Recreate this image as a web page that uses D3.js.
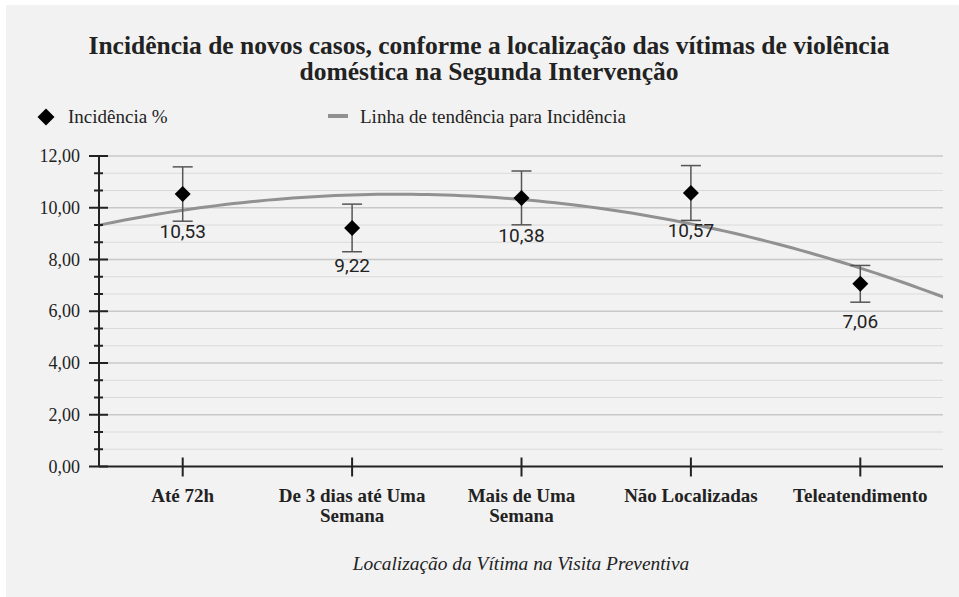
<!DOCTYPE html>
<html>
<head>
<meta charset="utf-8">
<script src="https://cdn.jsdelivr.net/npm/d3@7"></script>
<style>
  body { margin: 0; background: #fff; }
  text { font-family: "Liberation Serif", "Times New Roman", serif; fill: #222; }
</style>
</head>
<body>
<div id="chart"></div>
<script>
// data
var categories = ["Até 72h", "De 3 dias até Uma|Semana", "Mais de Uma|Semana", "Não Localizadas", "Teleatendimento"];
var incidence = [10.53, 9.22, 10.38, 10.57, 7.06];
var errors = [1.05, 0.92, 1.04, 1.06, 0.71];
var yTicks = [0, 2, 4, 6, 8, 10, 12];

var W = 959, H = 597;
var plotL = 99, plotR = 943, plotT = 156, plotB = 466.5;

var svg = d3.select("#chart").append("svg")
    .attr("width", W)
    .attr("height", H);

// panel
svg.append("rect")
    .attr("x", 6).attr("y", 5)
    .attr("width", W - 6).attr("height", H - 5)
    .attr("fill", "#f2f2f2");

var x = d3.scaleBand().domain(categories).range([98, 945]);
var y = d3.scaleLinear().domain([0, 12]).range([plotB, plotT]);
var cx = function (c) { return x(c) + x.bandwidth() / 2; };

// minor values at thirds of each major step
var minor = d3.range(0, 18 + 1).map(function (i) { return i * 2 / 3; })
    .filter(function (v) { return Math.abs(v / 2 - Math.round(v / 2)) > 0.01; });

// grid
svg.append("g").selectAll("line")
    .data(minor).enter().append("line")
    .attr("x1", plotL).attr("x2", plotR)
    .attr("y1", d => y(d)).attr("y2", d => y(d))
    .style("stroke", "#dadada").style("stroke-width", 1);
svg.append("g").selectAll("line")
    .data(yTicks.filter(d => d > 0)).enter().append("line")
    .attr("x1", plotL).attr("x2", plotR)
    .attr("y1", d => y(d)).attr("y2", d => y(d))
    .style("stroke", "#c8c8c8").style("stroke-width", 1.5);

// polynomial (order 2) trend line, least squares on category index
var n = incidence.length;
var ts = d3.range(n).map(i => i - (n - 1) / 2);
var mean = d3.mean(incidence);
var b = d3.sum(ts, (t, i) => t * incidence[i]) / d3.sum(ts, t => t * t);
var t2m = d3.mean(ts, t => t * t);
var c = d3.sum(ts, (t, i) => (t * t - t2m) * incidence[i]) / d3.sum(ts, t => (t * t - t2m) * (t * t - t2m));
var trend = function (t) { return mean + b * t + c * (t * t - t2m); };

var xi = d3.scaleLinear().domain([ts[0], ts[n - 1]]).range([cx(categories[0]), cx(categories[n - 1])]);
var tSamples = d3.range(0, 101).map(i => -2.5 + i * 5 / 100);

svg.append("defs").append("clipPath").attr("id", "plot")
    .append("rect").attr("x", plotL).attr("y", 0).attr("width", plotR - plotL).attr("height", H);

svg.append("path")
    .datum(tSamples)
    .attr("clip-path", "url(#plot)")
    .attr("d", d3.line().x(t => xi(t)).y(t => y(trend(t))))
    .style("fill", "none")
    .style("stroke", "#919191")
    .style("stroke-width", 3);

// points
var pts = svg.append("g").selectAll("g")
    .data(categories).enter().append("g")
    .attr("transform", d => "translate(" + cx(d) + ",0)");

pts.append("line")
    .attr("y1", (d, i) => y(incidence[i] + errors[i]))
    .attr("y2", (d, i) => y(incidence[i] - errors[i]))
    .style("stroke", "#555").style("stroke-width", 1.5);
pts.append("line")
    .attr("x1", -10).attr("x2", 10)
    .attr("y1", (d, i) => y(incidence[i] + errors[i]))
    .attr("y2", (d, i) => y(incidence[i] + errors[i]))
    .style("stroke", "#555").style("stroke-width", 1.5);
pts.append("line")
    .attr("x1", -10).attr("x2", 10)
    .attr("y1", (d, i) => y(incidence[i] - errors[i]))
    .attr("y2", (d, i) => y(incidence[i] - errors[i]))
    .style("stroke", "#555").style("stroke-width", 1.5);

pts.append("path")
    .attr("transform", (d, i) => "translate(0," + y(incidence[i]) + ")")
    .attr("d", "M0,-8L8,0L0,8L-8,0Z")
    .style("fill", "#000");

pts.append("text")
    .attr("y", (d, i) => y(incidence[i]) + 44)
    .attr("text-anchor", "middle")
    .style("font-family", "Roboto, sans-serif")
    .style("font-size", "19px")
    .text((d, i) => d3.format(".2f")(incidence[i]).replace(".", ","));

// y axis
var ax = svg.append("g").style("stroke", "#222");
ax.append("line").attr("x1", plotL).attr("x2", plotL).attr("y1", plotT).attr("y2", plotB).style("stroke-width", 2);
ax.selectAll(".maj").data(yTicks).enter().append("line")
    .attr("x1", plotL - 10).attr("x2", plotL + 9)
    .attr("y1", d => y(d)).attr("y2", d => y(d)).style("stroke-width", 2);
ax.selectAll(".min").data(minor).enter().append("line")
    .attr("x1", plotL - 5).attr("x2", plotL + 4)
    .attr("y1", d => y(d)).attr("y2", d => y(d)).style("stroke-width", 2);
svg.append("g").selectAll("text")
    .data(yTicks).enter().append("text")
    .attr("x", 80).attr("y", d => y(d) + 6)
    .attr("text-anchor", "end")
    .style("font-size", "18px")
    .text(d => d3.format(".2f")(d).replace(".", ","));

// x axis
ax.append("line").attr("x1", plotL).attr("x2", plotR).attr("y1", plotB).attr("y2", plotB).style("stroke-width", 2);
ax.selectAll(".xt").data(categories).enter().append("line")
    .attr("x1", d => cx(d)).attr("x2", d => cx(d))
    .attr("y1", plotB - 9).attr("y2", plotB + 10).style("stroke-width", 2);

var xl = svg.append("g").selectAll("text")
    .data(categories).enter().append("text")
    .attr("text-anchor", "middle")
    .style("font-size", "19px")
    .style("font-weight", "bold");
xl.each(function (d) {
    var el = d3.select(this);
    d.split("|").forEach(function (s, k) {
        el.append("tspan").attr("x", cx(d)).attr("y", 502 + k * 20).text(s);
    });
});

svg.append("text")
    .attr("x", 521).attr("y", 570)
    .attr("text-anchor", "middle")
    .style("font-size", "19.4px")
    .style("font-style", "italic")
    .text("Localização da Vítima na Visita Preventiva");

// title
var title = ["Incidência de novos casos, conforme a localização das vítimas de violência",
             "doméstica na Segunda Intervenção"];
svg.append("g").selectAll("text")
    .data(title).enter().append("text")
    .attr("x", 489).attr("y", (d, i) => 54 + i * 26)
    .attr("text-anchor", "middle")
    .style("font-size", "25.5px")
    .style("font-weight", "bold")
    .text(d => d);

// legend
svg.append("path")
    .attr("transform", "translate(46,117)")
    .attr("d", "M0,-8.5L8.5,0L0,8.5L-8.5,0Z")
    .style("fill", "#000");
svg.append("text").attr("x", 68).attr("y", 123)
    .style("font-size", "19px").text("Incidência %");
svg.append("line")
    .attr("x1", 328).attr("x2", 348).attr("y1", 116).attr("y2", 116)
    .style("stroke", "#919191").style("stroke-width", 4);
svg.append("text").attr("x", 360).attr("y", 123)
    .style("font-size", "19px").text("Linha de tendência para Incidência");
</script>
</body>
</html>
